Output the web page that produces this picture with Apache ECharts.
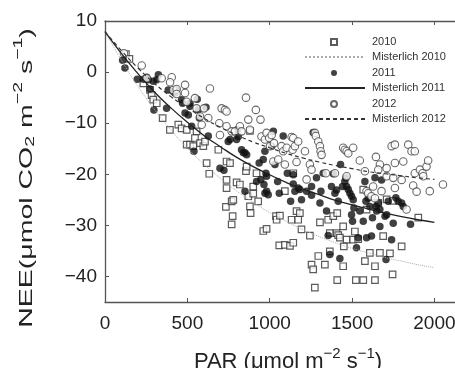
<!DOCTYPE html>
<html>
<head>
<meta charset="utf-8">
<script src="https://cdn.jsdelivr.net/npm/echarts@6/dist/echarts.min.js"></script>
<style>
  html, body { margin: 0; padding: 0; background: #fff; overflow: hidden; }
  #chart { width: 455px; height: 368px; }
</style>
</head>
<body>
<div id="chart"></div>
<script>
const par2010 = [127,148,233,273,283,293,314,350,394,445,465,496,496,516,536,546,556,577,597,607,617,633,688,738,759,738,738,734,769,779,775,769,799,819,856,860,870,880,884,900,920,930,900,880,961,981,1038,1042,1062,1058,1092,1123,1143,1143,1092,1133,1163,1173,1183,1193,1244,1254,1264,1274,1295,1305,1335,1355,1365,1365,1386,1406,1410,1416,1426,1446,1450,1446,1410,1467,1507,1517,1523,1537,1568,1578,1588,1608,1639,1639,1669,1689,1730,1746,1801,1710,1659,1568,1902,1750]
const nee2010 = [3.5,2.6,-2.2,-3.5,-4.5,-5.4,-6.1,-9.0,-11.3,-10.3,-11.0,-11.3,-14.2,-14.2,-14.5,-12.9,-11.6,-13.9,-14.5,-13.6,-17.8,-19.9,-15.2,-17.5,-17.8,-21.1,-22.7,-26.4,-25.3,-25.0,-28.2,-29.8,-21.6,-22.0,-19.4,-18.5,-24.3,-26.3,-27.6,-22.4,-19.8,-25.3,-23.8,-11.5,-31.1,-30.7,-28.2,-28.9,-28.1,-33.9,-33.8,-34.0,-33.4,-19.8,-23.3,-28.9,-27.2,-28.9,-27.6,-30.8,-32.0,-37.7,-38.6,-42.2,-36.0,-29.4,-37.7,-28.9,-31.5,-35.1,-28.2,-31.5,-27.6,-31.9,-32.4,-38.0,-34.1,-30.2,-40.7,-32.8,-32.8,-31.2,-40.7,-32.7,-40.7,-37.0,-26.9,-35.4,-38.0,-40.7,-35.4,-32.1,-35.5,-39.6,-34.1,-24.9,-25.6,-23.0,-28.5,-25.2]

const par2011 = [107,121,196,233,253,263,273,293,314,324,297,374,384,415,425,435,465,471,486,506,516,516,526,540,560,566,573,613,627,698,722,748,759,799,803,809,829,840,850,860,850,920,936,946,961,971,977,981,965,971,981,991,1012,1022,1032,1048,1058,1082,1107,1127,1143,1143,1153,1173,1183,1193,1224,1254,1264,1254,1284,1305,1311,1325,1345,1355,1365,1375,1386,1396,1406,1416,1426,1430,1442,1456,1463,1467,1477,1487,1497,1507,1511,1497,1503,1527,1537,1547,1568,1578,1584,1588,1598,1608,1618,1624,1639,1645,1649,1659,1669,1679,1669,1700,1710,1706,1720,1740,1750,1766,1780,1801,1811,1855]
const nee2011 = [2.3,0.8,-1.4,-1.4,-1.0,-1.5,-3.3,-1.8,-1.5,-0.5,-7.4,-7.1,-3.5,-3.8,-4.1,-3.5,-5.4,-6.1,-8.0,-8.4,-6.1,-6.7,-10.6,-15.5,-5.3,-7.4,-9.0,-6.9,-12.5,-18.8,-19.2,-13.6,-13.2,-13.2,-11.3,-12.6,-15.2,-15.8,-15.8,-16.2,-23.3,-21.4,-17.8,-21.0,-17.1,-15.5,-19.8,-20.4,-22.0,-23.7,-23.3,-24.0,-14.5,-11.6,-18.1,-21.4,-23.7,-12.5,-19.8,-25.3,-20.1,-21.9,-23.3,-22.7,-23.0,-25.0,-23.3,-22.4,-11.8,-24.1,-20.7,-25.6,-23.3,-19.8,-27.2,-32.0,-35.7,-22.4,-19.9,-23.7,-23.1,-25.3,-36.5,-18.1,-22.4,-21.4,-20.7,-22.4,-23.0,-23.7,-24.3,-25.0,-26.6,-27.9,-29.2,-34.4,-32.4,-27.2,-29.2,-21.4,-25.3,-32.4,-24.7,-26.3,-32.1,-28.5,-20.7,-26.3,-27.2,-25.6,-26.9,-21.1,-30.2,-28.2,-27.9,-36.7,-25.3,-32.8,-29.6,-24.6,-25.3,-25.6,-26.3,-29.8]

const par2012 = [115,223,253,344,405,395,415,435,435,486,486,496,546,556,577,587,601,637,627,694,708,728,738,698,738,769,789,819,829,856,870,880,916,944,950,971,981,997,1002,1012,1026,1022,1052,1072,1082,1092,1103,1133,1143,1139,1153,1163,1173,1214,1224,1244,1254,1274,1280,1295,1305,1309,1315,1341,1396,1446,1456,1467,1477,1507,1467,1547,1578,1588,1598,1618,1639,1628,1645,1669,1659,1679,1710,1710,1740,1760,1760,1750,1760,1801,1811,1841,1861,1881,1871,1892,1881,1912,1928,1952,1962,1972,2052,1932,1831]
const nee2012 = [3.7,1.3,-1.2,-1.2,-1.0,-2.0,-3.5,-3.3,-4.3,-2.5,-4.1,-5.8,-5.1,-7.1,-8.7,-10.3,-7.1,-3.2,-9.0,-10.0,-7.1,-7.4,-7.7,-12.3,-10.6,-11.6,-11.6,-10.6,-11.6,-5.0,-9.3,-11.3,-7.4,-9.3,-12.6,-13.2,-11.9,-12.9,-14.5,-12.3,-13.9,-17.5,-17.1,-14.5,-15.5,-18.1,-14.8,-12.7,-12.9,-15.2,-14.5,-17.6,-13.6,-15.5,-21.0,-18.1,-19.1,-11.9,-12.5,-13.6,-14.5,-15.5,-16.2,-19.8,-19.8,-14.8,-15.2,-15.5,-15.9,-14.8,-20.4,-17.3,-19.4,-23.3,-23.7,-24.3,-24.7,-22.4,-16.6,-18.1,-19.1,-23.3,-18.8,-20.4,-14.5,-14.2,-17.8,-20.7,-22.7,-21.1,-17.5,-14.2,-15.5,-15.5,-22.2,-23.4,-19.8,-19.1,-19.8,-18.5,-17.3,-23.3,-22.0,-20.4,-26.9]

// fitted curves, read at every 100 PAR
const fitPar = [0,100,200,300,400,500,600,700,800,900,1000,1100,1200,1300,1400,1500,1600,1700,1800,1900,2000]
const fit2010 = [7.9,2.3,-2.8,-7.3,-11.3,-14.9,-18.0,-20.8,-23.3,-25.5,-27.5,-29.2,-30.8,-32.2,-33.4,-34.5,-35.4,-36.3,-37.0,-37.7,-38.3]
const fit2011 = [7.9,3.6,-0.3,-3.9,-7.0,-9.8,-12.4,-14.6,-16.7,-18.5,-20.1,-21.6,-22.9,-24.0,-25.1,-26.0,-26.8,-27.6,-28.3,-28.9,-29.4]
const fit2012 = [7.9,4.2,0.8,-2.2,-4.8,-7.0,-9.0,-10.8,-12.3,-13.7,-14.8,-15.9,-16.8,-17.6,-18.3,-18.9,-19.5,-19.9,-20.3,-20.7,-21.0]

const xTicks = [0,500,1000,1500,2000]
const yTicks = [10,0,-10,-20,-30,-40]

const zip = (a, b) => a.map((v, i) => [v, b[i]])

const chart = echarts.init(document.getElementById('chart'))
const axisColor = '#555'
const font = '"Liberation Sans", Arial, sans-serif'
const legendText = { fontSize: 11, color: '#333', lineHeight: 15, fontFamily: font }

chart.setOption({
  animation: false,
  textStyle: { fontFamily: font },
  grid: { left: 105, top: 21, right: 0, bottom: 66, containLabel: false, outerBoundsMode: 'none' },
  legend: [{
    // point symbols
    orient: 'vertical', left: 330, top: 34.5, padding: 0,
    itemWidth: 6, itemHeight: 6, itemGap: 16,
    selectedMode: false,
    textStyle: Object.assign({ padding: [0, 0, 0, 30] }, legendText),
    data: ['2010', '2011', '2012']
  }, {
    // fitted lines
    orient: 'vertical', left: 304, top: 49.5, padding: 0,
    itemWidth: 60, itemHeight: 6, itemGap: 16,
    selectedMode: false,
    textStyle: Object.assign({ padding: [0, 0, 0, 2] }, legendText),
    itemStyle: { opacity: 0 },
    data: ['Misterlich 2010', 'Misterlich 2011', 'Misterlich 2012']
  }],
  graphic: [{
    type: 'text',
    x: 24, y: 178,
    rotation: Math.PI / 2,
    scaleX: 1.5,
    style: {
      text: '{a|NEE(μmol CO}{b|2}{a| m}{s|−2}{a| s}{s|−1}{a|)}',
      align: 'center',
      verticalAlign: 'middle',
      rich: {
        a: { fontSize: 19, fill: '#222', fontFamily: font, lineHeight: 25, verticalAlign: 'bottom' },
        b: { fontSize: 13, fill: '#222', fontFamily: font, lineHeight: 25, verticalAlign: 'bottom' },
        s: { fontSize: 13, fill: '#222', fontFamily: font, lineHeight: 25, verticalAlign: 'top' }
      }
    }
  }],
  xAxis: [{
    type: 'value', min: 0, max: 2125, interval: 500,
    axisLine: { onZero: false, lineStyle: { color: axisColor, width: 1.3 } },
    axisTick: { inside: true, length: 4, lineStyle: { color: axisColor }, customValues: xTicks },
    axisLabel: { fontSize: 19, color: '#222', margin: 12, customValues: xTicks, formatter: v => String(v) },
    splitLine: { show: false },
    name: '{a|PAR (μmol m}{s|−2}{a| s}{s|−1}{a|)}',
    nameLocation: 'middle',
    nameGap: 44,
    nameTextStyle: {
      padding: [0, 0, 0, 16],
      rich: {
        a: { fontSize: 22, color: '#222', fontFamily: font, lineHeight: 27, verticalAlign: 'bottom' },
        s: { fontSize: 15, color: '#222', fontFamily: font, lineHeight: 27, verticalAlign: 'top' }
      }
    }
  }, {
    type: 'value', min: 0, max: 2125, position: 'top',
    axisLine: { onZero: false, lineStyle: { color: axisColor, width: 1.3 } },
    axisTick: { inside: true, length: 4, lineStyle: { color: axisColor }, customValues: xTicks },
    axisLabel: { show: false },
    splitLine: { show: false }
  }],
  yAxis: {
    type: 'value', min: -45, max: 10,
    axisLine: { show: true, onZero: false, lineStyle: { color: axisColor, width: 1.3 } },
    axisTick: { show: true, inside: true, length: 4, lineStyle: { color: axisColor }, customValues: yTicks },
    axisLabel: { fontSize: 19, color: '#222', margin: 8, customValues: yTicks, formatter: v => (v < 0 ? '\u2212' + (-v) : '' + v) },
    splitLine: { show: false }
  },
  series: [
    {
      name: '2010', type: 'scatter', symbol: 'rect', symbolSize: 6.5,
      itemStyle: { color: '#fff', borderColor: '#333', borderWidth: 1.2 },
      data: zip(par2010, nee2010)
    },
    {
      name: 'Misterlich 2010', type: 'line', smooth: true, symbol: 'none',
      itemStyle: { color: '#aaa' },
      lineStyle: { color: '#aaa', width: 1, type: 'dotted' },
      data: zip(fitPar, fit2010)
    },
    {
      name: '2011', type: 'scatter', symbol: 'circle', symbolSize: 7.5,
      itemStyle: { color: '#111' },
      data: zip(par2011, nee2011)
    },
    {
      name: 'Misterlich 2011', type: 'line', smooth: true, symbol: 'none',
      itemStyle: { color: '#222' },
      lineStyle: { color: '#222', width: 1.3, type: 'solid' },
      data: zip(fitPar, fit2011)
    },
    {
      name: '2012', type: 'scatter', symbol: 'circle', symbolSize: 7.5,
      itemStyle: { color: '#fff', borderColor: '#444', borderWidth: 1.1 },
      data: zip(par2012, nee2012)
    },
    {
      name: 'Misterlich 2012', type: 'line', smooth: true, symbol: 'none',
      itemStyle: { color: '#333' },
      lineStyle: { color: '#333', width: 1.2, type: [4, 3] },
      data: zip(fitPar, fit2012)
    }
  ]
})
</script>
</body>
</html>
